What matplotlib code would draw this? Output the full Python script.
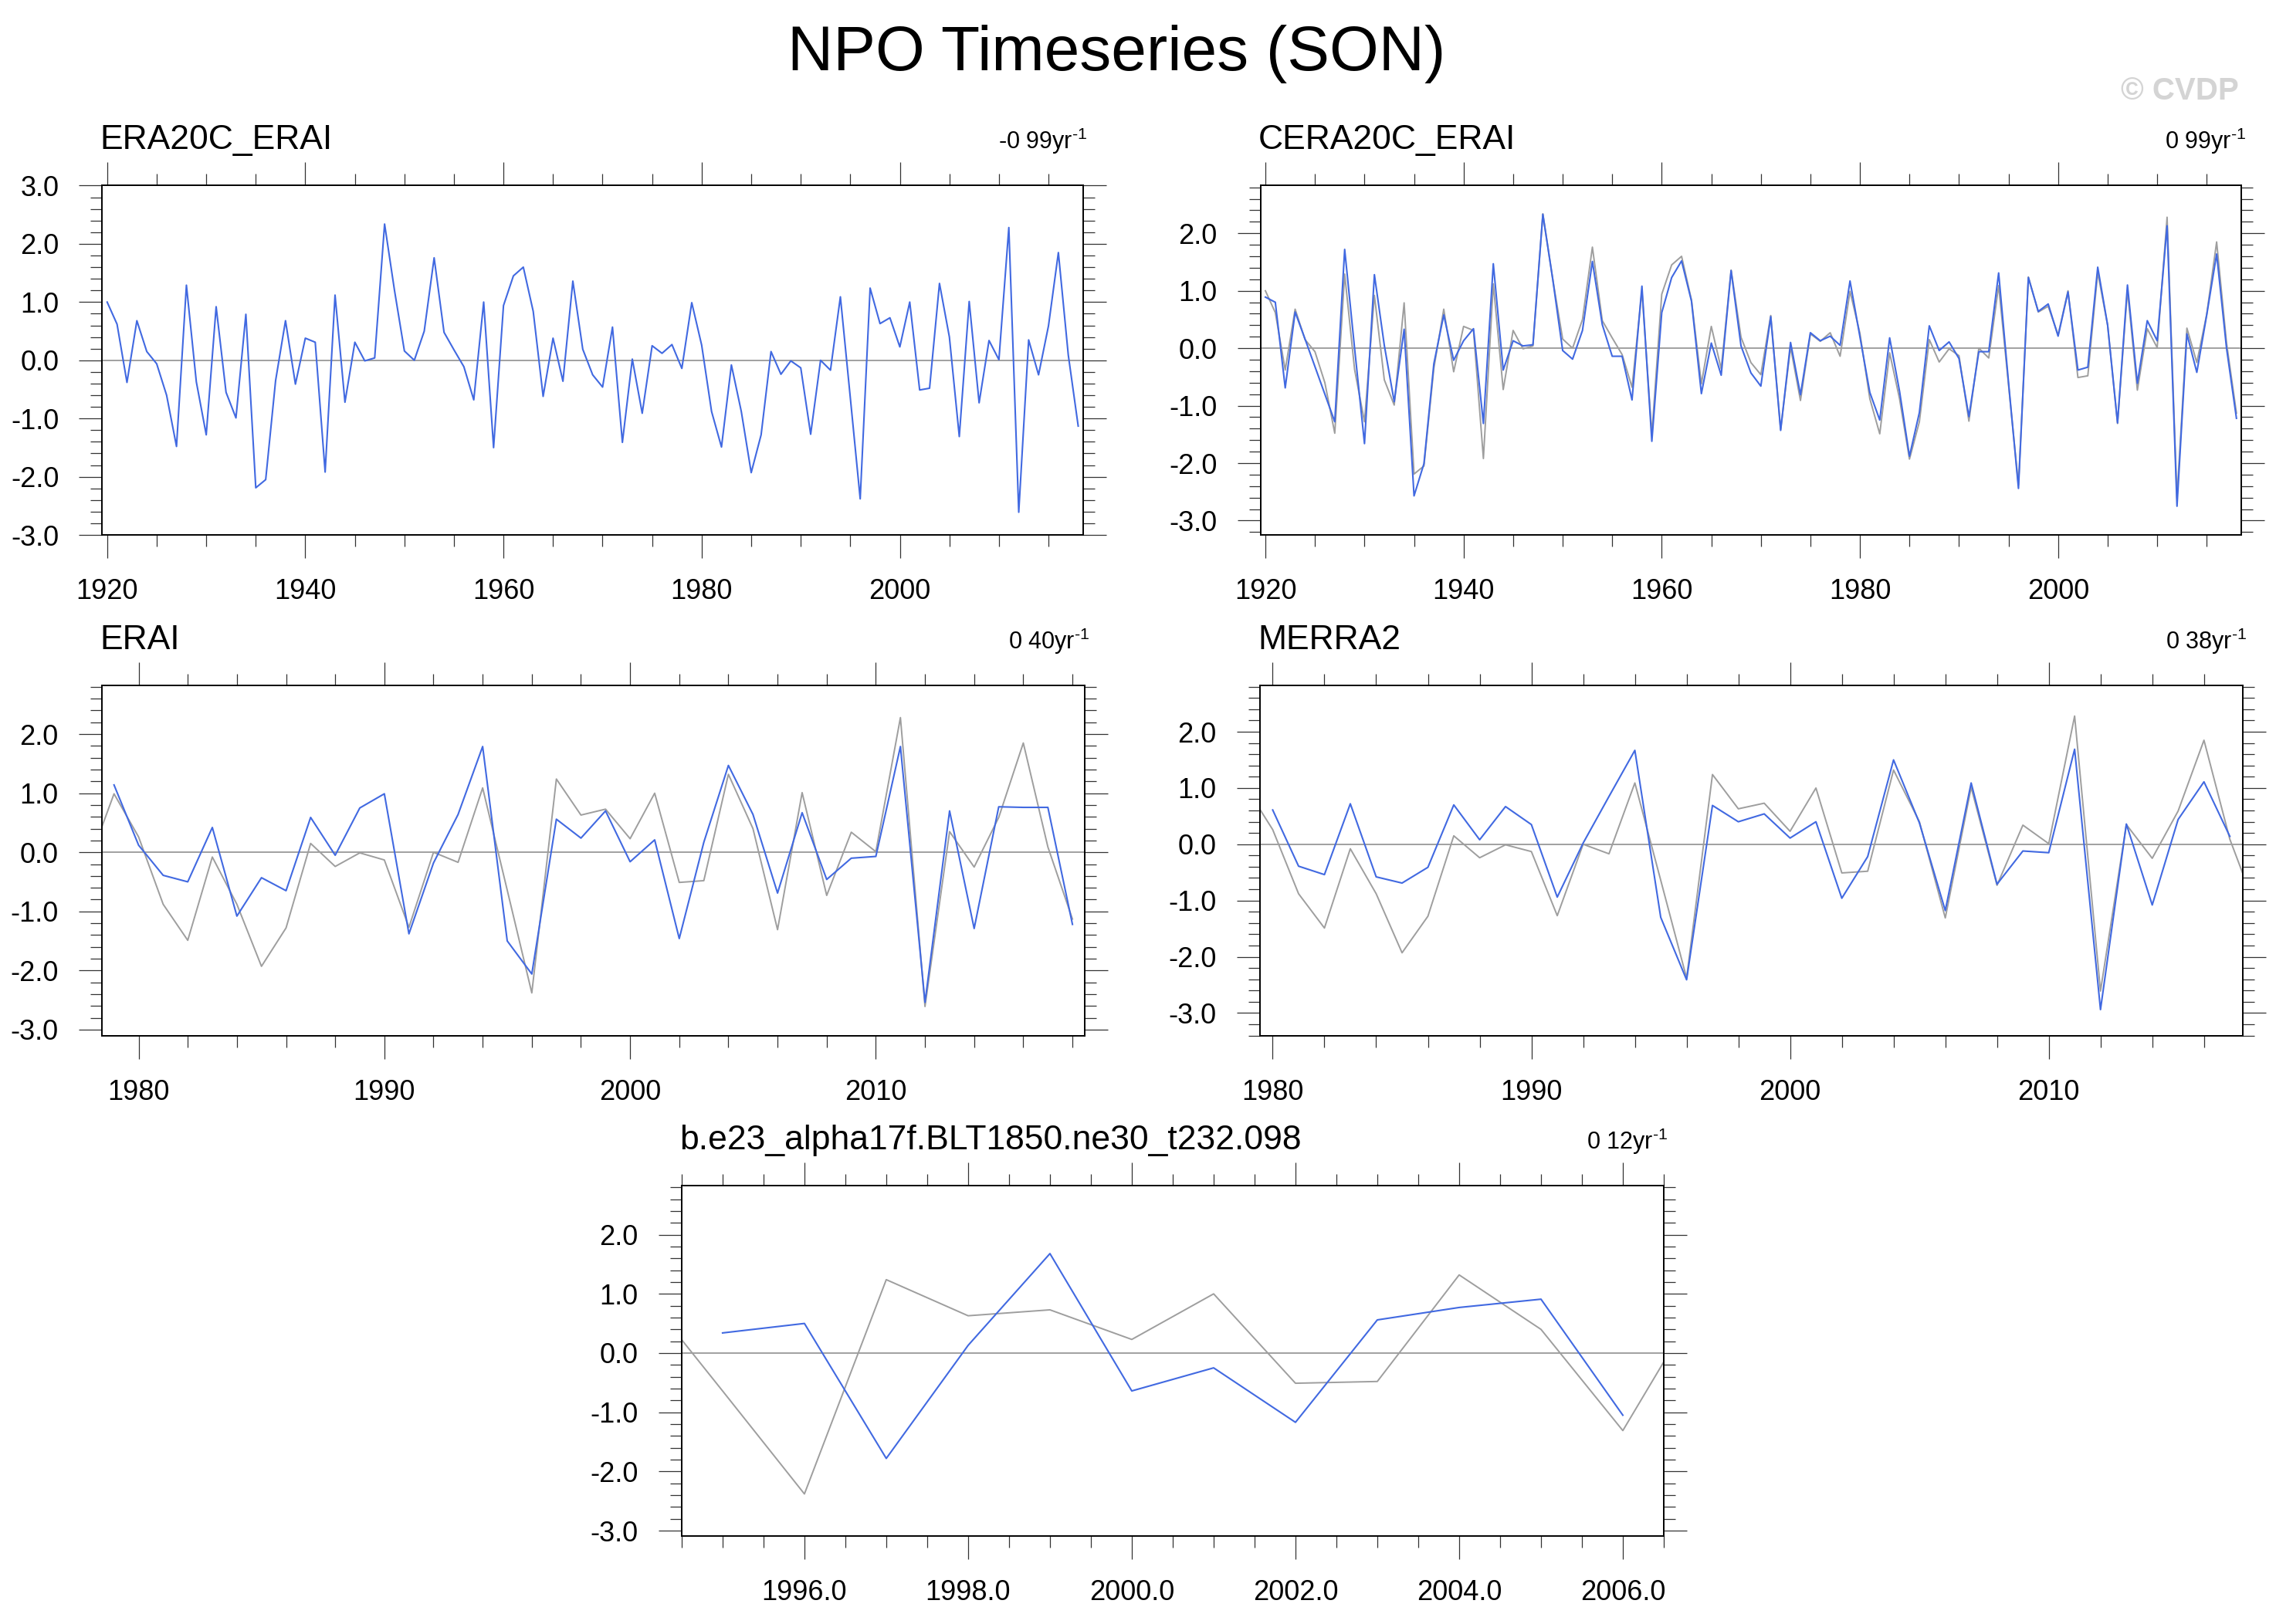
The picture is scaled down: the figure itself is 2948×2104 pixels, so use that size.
import matplotlib
matplotlib.use("Agg")
import matplotlib.pyplot as plt
import numpy as np
from matplotlib.ticker import MultipleLocator, FormatStrFormatter

plt.rcParams["font.family"] = ["Liberation Sans", "DejaVu Sans"]
plt.rcParams["mathtext.fontset"] = "custom"
plt.rcParams["mathtext.rm"] = "Liberation Sans"
plt.rcParams["axes.unicode_minus"] = False

BLUE = "#4169e1"
GRAY = "#9e9e9e"

# ERA20C_ERAI, SON NPO index 1920-2018 (also the grey reference line)
era20c_years = list(range(1920, 2019))
era20c = [
    1.00, 0.62, -0.38, 0.68, 0.15, -0.06, -0.60, -1.48, 1.29, -0.37,
    -1.28, 0.92, -0.55, -0.99, 0.79, -2.19, -2.05, -0.35, 0.68, -0.41,
    0.38, 0.31, -1.92, 1.12, -0.72, 0.31, -0.01, 0.04, 2.34, 1.20,
    0.16, 0.00, 0.50, 1.76, 0.48, 0.18, -0.11, -0.68, 1.00, -1.50,
    0.94, 1.45, 1.60, 0.84, -0.62, 0.38, -0.36, 1.36, 0.19, -0.25,
    -0.46, 0.57, -1.41, 0.02, -0.91, 0.25, 0.12, 0.27, -0.14, 0.99,
    0.26, -0.88, -1.49, -0.08, -0.88, -1.93, -1.28, 0.15, -0.24, -0.01,
    -0.13, -1.27, 0.00, -0.17, 1.09, -0.64, -2.38, 1.24, 0.63, 0.73,
    0.23, 1.00, -0.51, -0.48, 1.32, 0.40, -1.31, 1.01, -0.73, 0.34,
    0.01, 2.28, -2.61, 0.35, -0.25, 0.59, 1.85, 0.09, -1.13,
]

# CERA20C_ERAI 1920-2018
cera20c_years = list(range(1920, 2019))
cera20c = [
    0.89, 0.80, -0.69, 0.63, 0.16, -0.32, -0.80, -1.28, 1.72, 0.00,
    -1.66, 1.28, 0.05, -0.93, 0.33, -2.57, -2.01, -0.27, 0.58, -0.21,
    0.13, 0.34, -1.31, 1.47, -0.38, 0.13, 0.04, 0.06, 2.33, 1.20,
    -0.04, -0.19, 0.31, 1.51, 0.41, -0.14, -0.14, -0.90, 1.08, -1.62,
    0.62, 1.23, 1.52, 0.82, -0.79, 0.09, -0.47, 1.35, 0.04, -0.43,
    -0.66, 0.55, -1.43, 0.10, -0.81, 0.27, 0.13, 0.21, 0.05, 1.17,
    0.20, -0.77, -1.25, 0.18, -0.75, -1.88, -1.12, 0.39, -0.04, 0.11,
    -0.18, -1.19, -0.06, -0.06, 1.31, -0.60, -2.44, 1.23, 0.64, 0.77,
    0.21, 0.98, -0.38, -0.33, 1.41, 0.40, -1.30, 1.10, -0.61, 0.48,
    0.13, 2.13, -2.75, 0.25, -0.42, 0.58, 1.64, 0.00, -1.22,
]

# ERAI 1979-2018
erai_years = list(range(1979, 2019))
erai = [
    1.14, 0.12, -0.39, -0.50, 0.42, -1.08, -0.43, -0.65, 0.59, -0.05,
    0.75, 0.99, -1.38, -0.18, 0.64, 1.79, -1.50, -2.06, 0.56, 0.24,
    0.70, -0.16, 0.21, -1.46, 0.17, 1.47, 0.64, -0.69, 0.67, -0.46,
    -0.10, -0.07, 1.79, -2.54, 0.70, -1.29, 0.77, 0.76, 0.76, -1.22,
]

# MERRA2 1980-2017
merra2_years = list(range(1980, 2018))
merra2 = [
    0.61, -0.39, -0.54, 0.72, -0.58, -0.69, -0.41, 0.70, 0.08, 0.67,
    0.35, -0.94, 0.02, 0.85, 1.67, -1.30, -2.41, 0.69, 0.40, 0.54,
    0.11, 0.40, -0.96, -0.22, 1.50, 0.38, -1.18, 1.09, -0.71, -0.12,
    -0.15, 1.69, -2.94, 0.36, -1.08, 0.44, 1.11, 0.14,
]

# model run 1995-2006
model_years = list(range(1995, 2007))
model = [0.34, 0.50, -1.78, 0.13, 1.68, -0.64, -0.25, -1.17, 0.56, 0.77, 0.91, -1.05]

SUP = r"$^{\text{-1}}$"

# panel: title, trend string, years, values, overlay obs?, xlim, ylim, x major, x minor, x format, rect
PANELS = [
    ("ERA20C_ERAI", "-0 99yr" + SUP, era20c_years, era20c, False,
     (1919.5, 2018.5), (-3.0, 3.0), 20, 5, "%d",
     [0.0449, 0.6706, 0.4310, 0.2151]),
    ("CERA20C_ERAI", "0 99yr" + SUP, cera20c_years, cera20c, True,
     (1919.5, 2018.5), (-3.25, 2.83), 20, 5, "%d",
     [0.5538, 0.6706, 0.4310, 0.2151]),
    ("ERAI", "0 40yr" + SUP, erai_years, erai, True,
     (1978.5, 2018.5), (-3.10, 2.82), 10, 2, "%d",
     [0.0447, 0.3624, 0.4319, 0.2154]),
    ("MERRA2", "0 38yr" + SUP, merra2_years, merra2, True,
     (1979.5, 2017.5), (-3.40, 2.82), 10, 2, "%d",
     [0.5535, 0.3624, 0.4319, 0.2154]),
    ("b.e23_alpha17f.BLT1850.ne30_t232.098", "0 12yr" + SUP, model_years, model, True,
     (1994.5, 2006.5), (-3.09, 2.83), 2, 0.5, "%.1f",
     [0.2995, 0.0542, 0.4315, 0.2158]),
]


def draw_panel(fig, spec):
    title, trend, years, vals, overlay, xlim, ylim, xmaj, xmin, xfmt, rect = spec
    ax = fig.add_axes(rect)
    ax.axhline(0.0, color="#a0a0a0", lw=0.7, zorder=1)
    if overlay:
        ax.plot(era20c_years, era20c, color=GRAY, lw=0.7, zorder=2)
    ax.plot(years, vals, color=BLUE, lw=0.75, zorder=3)
    ax.set_xlim(*xlim)
    ax.set_ylim(*ylim)

    ax.xaxis.set_major_locator(MultipleLocator(xmaj))
    ax.xaxis.set_minor_locator(MultipleLocator(xmin))
    ax.xaxis.set_major_formatter(FormatStrFormatter(xfmt))
    ax.yaxis.set_major_locator(MultipleLocator(1.0))
    ax.yaxis.set_minor_locator(MultipleLocator(0.2))
    ax.yaxis.set_major_formatter(FormatStrFormatter("%.1f"))
    ax.tick_params(which="both", direction="out", top=True, right=True,
                   width=0.45, color="#333333")
    ax.tick_params(which="major", length=10.8, labelsize=13, pad=9.4)
    ax.tick_params(which="minor", length=5.4)
    for sp in ax.spines.values():
        sp.set_linewidth(0.7)

    ax.annotate(title, xy=(0, 1), xycoords="axes fraction", xytext=(-1, 17),
                textcoords="offset points", ha="left", va="baseline", fontsize=16)
    ax.annotate(trend, xy=(1, 1), xycoords="axes fraction", xytext=(2, 17),
                textcoords="offset points", ha="right", va="baseline", fontsize=11)
    return ax


def main():
    fig = plt.figure(figsize=(14.74, 10.52), dpi=200)
    for spec in PANELS:
        draw_panel(fig, spec)
    fig.text(0.4905, 1 - 91 / 2104, "NPO Timeseries (SON)", ha="center",
             va="baseline", fontsize=29.5)
    fig.text(2900 / 2948, 1 - 129 / 2104, "\u00a9 CVDP", ha="right", va="baseline",
             fontsize=14.5, fontweight="bold", color="#d4d4d4")
    fig.savefig("out.png", dpi=200)


if __name__ == "__main__":
    main()
